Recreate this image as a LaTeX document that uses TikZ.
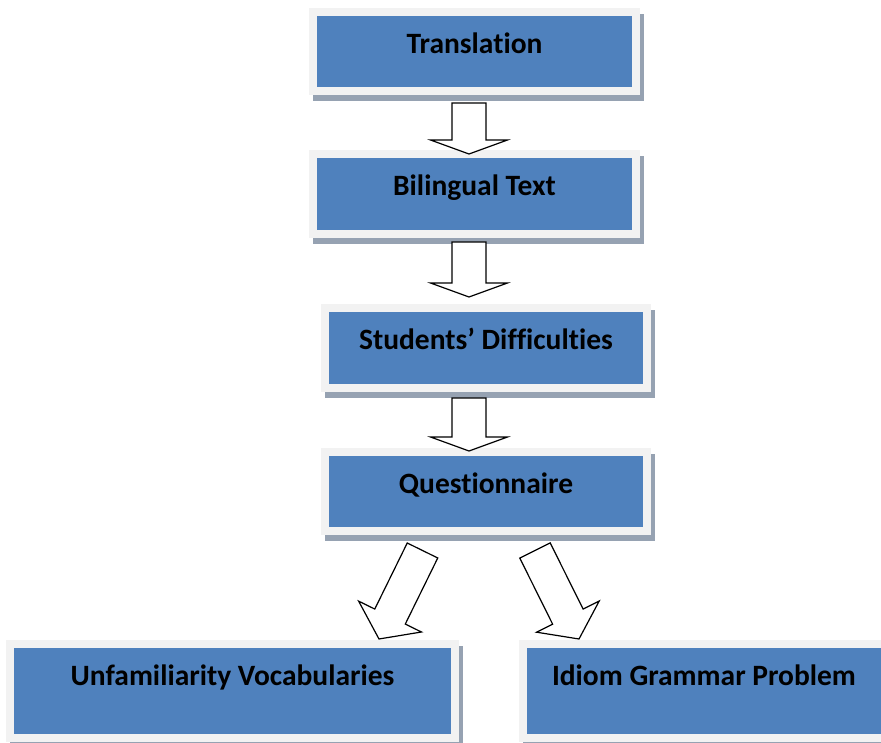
\documentclass[tikz,border=0pt]{standalone}
\usepackage{fontspec}
\setmainfont[Ligatures=NoCommon]{Carlito}
\usetikzlibrary{calc}
\definecolor{boxblue}{RGB}{79,129,189}
\definecolor{framegray}{RGB}{242,242,242}
\definecolor{shadowgray}{RGB}{150,162,178}

% hollow block arrow: from, to, half shaft, half head, head length
\newcommand{\blockarrow}[5]{%
  \coordinate (bh) at ($(#2)!#5!(#1)$);
  \draw[bigarrow] ($(#1)!#3!90:(#2)$) -- ($(bh)!#3!-90:(#1)$) -- ($(bh)!#4!-90:(#1)$)
    -- (#2) -- ($(bh)!#4!90:(#1)$) -- ($(bh)!#3!90:(#1)$) -- ($(#1)!#3!-90:(#2)$) -- cycle;}

\begin{document}
\begin{tikzpicture}[x=1pt,y=1pt,
  flowbox/.style={rectangle, fill=boxblue, inner sep=0pt, minimum width=315pt,
    text height=37.5pt, text depth=34pt, align=center,
    font=\bfseries\fontsize{29.5}{34}\selectfont,
    preaction={draw=shadowgray, fill=shadowgray, line width=16pt,
      transform canvas={shift={(4pt,-6pt)}}},
    preaction={draw=framegray, fill=framegray, line width=16pt}},
  bigarrow/.style={draw=black, fill=white, line width=1.2pt, line join=miter}]
\useasboundingbox (0,0) rectangle (881,742);

% Boxes
\node[flowbox] (trans) at (474.5,690.5) {Translation};
\node[flowbox] (bitext) at (474.5,548) {Bilingual Text};
\node[flowbox, minimum width=314pt] (diff) at (486,394) {Students’ Difficulties};
\node[flowbox, minimum width=314pt] (quest) at (486,250.5) {Questionnaire};
\node[flowbox, minimum width=437pt, text depth=48.5pt] (vocab) at (232.5,51) {Unfamiliarity Vocabularies};
\node[flowbox, minimum width=354pt, text depth=48.5pt] (idiom) at (704,51) {Idiom Grammar Problem};

% Arrow ends
\coordinate (a1s) at (469,639);
\coordinate (a1e) at (469,588);
\coordinate (a2s) at (469,500);
\coordinate (a2e) at (469,445);
\coordinate (a3s) at (469,344);
\coordinate (a3e) at (469,291);
\coordinate (a4s) at (422.5,191.5);
\coordinate (a4e) at (379,103);
\coordinate (a5s) at (535,191.5);
\coordinate (a5e) at (579,103);

% Arrows
\blockarrow{a1s}{a1e}{17pt}{38.5pt}{14pt}
\blockarrow{a2s}{a2e}{17pt}{38.5pt}{14pt}
\blockarrow{a3s}{a3e}{17pt}{38.5pt}{14pt}
\blockarrow{a4s}{a4e}{17pt}{35pt}{25pt}
\blockarrow{a5s}{a5e}{17pt}{35pt}{25pt}

\end{tikzpicture}
\end{document}
